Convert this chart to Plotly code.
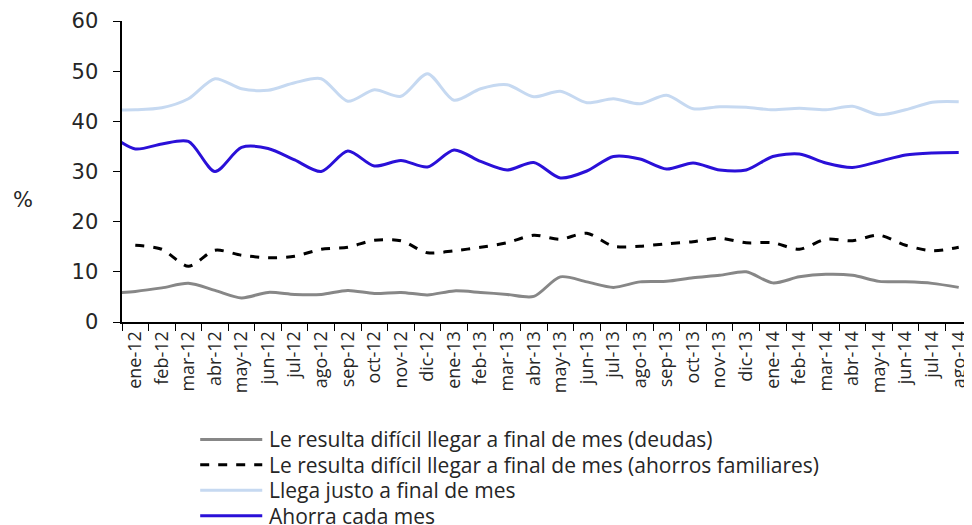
import plotly.graph_objects as go

# Categories (first one "dic-11" lies outside the visible range; only its approach segment shows)
months = ["dic-11",
          "ene-12", "feb-12", "mar-12", "abr-12", "may-12", "jun-12", "jul-12", "ago-12",
          "sep-12", "oct-12", "nov-12", "dic-12",
          "ene-13", "feb-13", "mar-13", "abr-13", "may-13", "jun-13", "jul-13", "ago-13",
          "sep-13", "oct-13", "nov-13", "dic-13",
          "ene-14", "feb-14", "mar-14", "abr-14", "may-14", "jun-14", "jul-14", "ago-14"]

deudas = [5.7,
          6.1, 6.8, 7.7, 6.3, 4.8, 5.9, 5.5, 5.5, 6.3, 5.7, 5.9, 5.4,
          6.2, 5.9, 5.5, 5.1, 9.0, 8.0, 6.9, 8.0, 8.1, 8.8, 9.3, 10.0,
          7.8, 9.0, 9.5, 9.3, 8.1, 8.0, 7.7, 6.9]

ahorros_fam = [None,
               15.3, 14.5, 11.1, 14.3, 13.3, 12.8, 13.1, 14.5, 14.9, 16.3, 16.2, 13.8,
               14.2, 14.9, 15.8, 17.3, 16.5, 17.7, 15.1, 15.1, 15.6, 16.0, 16.7, 15.8,
               15.8, 14.5, 16.5, 16.2, 17.3, 15.3, 14.2, 14.9]

justo = [42.3,
         42.3, 42.7, 44.5, 48.5, 46.5, 46.2, 47.7, 48.5, 44.0, 46.3, 45.0, 49.5,
         44.2, 46.5, 47.3, 44.9, 46.0, 43.7, 44.5, 43.5, 45.2, 42.5, 42.9, 42.8,
         42.3, 42.6, 42.3, 43.0, 41.3, 42.3, 43.8, 43.9]

ahorra = [37.5,
          34.5, 35.5, 36.0, 30.0, 34.8, 34.6, 32.3, 30.0, 34.1, 31.1, 32.2, 30.9,
          34.3, 32.0, 30.3, 31.8, 28.7, 30.1, 33.0, 32.5, 30.5, 31.7, 30.3, 30.3,
          33.0, 33.5, 31.7, 30.8, 32.0, 33.3, 33.7, 33.8]

names = ["Le resulta difícil llegar a final de mes (deudas)",
         "Le resulta difícil llegar a final de mes (ahorros familiares)",
         "Llega justo a final de mes",
         "Ahorra cada mes"]
colors = ["#878787", "#000000", "#c6d9f1", "#2a10d8"]
dashes = ["solid", "dash", "solid", "solid"]
series = [deudas, ahorros_fam, justo, ahorra]

FONT = "Open Sans"
NUMFONT = "DejaVu Sans"
TXT = "#262626"

fig = go.Figure()
for nm, ys, col, ds in zip(names, series, colors, dashes):
    fig.add_trace(go.Scatter(x=months, y=ys, name=nm, mode="lines", showlegend=False,
                             line=dict(color=col, width=3, dash=ds, shape="spline", smoothing=0.8)))

# Legend drawn below the chart (line sample + label per series)
shapes, annotations = [], []
for i, (nm, col, ds) in enumerate(zip(names, colors, dashes)):
    yy = -0.39 - i * 0.0845
    shapes.append(dict(type="line", xref="paper", yref="paper", x0=0.092, x1=0.165,
                       y0=yy, y1=yy, line=dict(color=col, width=3, dash=ds)))
    annotations.append(dict(text=nm, xref="paper", yref="paper", x=0.171, y=yy,
                            xanchor="left", yanchor="middle", showarrow=False,
                            font=dict(family=FONT, size=21, color=TXT)))

annotations.append(dict(text="%", x=-0.1165, y=0.405, xref="paper", yref="paper",
                        xanchor="center", yanchor="middle",
                        showarrow=False, font=dict(family=NUMFONT, size=21, color=TXT)))

# page body has an 8px margin: figure occupies 964x517 starting at (8, 8)
fig.update_layout(
    width=964, height=517,
    margin=dict(l=114, r=0, t=13, b=203, autoexpand=False),
    plot_bgcolor="white", paper_bgcolor="white",
    font=dict(family=FONT, color=TXT, size=19),
    showlegend=False,
    xaxis=dict(type="category", range=[0.5, 32.5], tickson="boundaries",
               tickangle=-90, ticks="outside", ticklen=7, tickcolor="#000",
               showline=True, linecolor="#000", linewidth=2, showgrid=False,
               automargin=False,
               tickfont=dict(family=FONT, size=18, color=TXT)),
    yaxis=dict(range=[0, 60], dtick=10, ticks="outside", ticklen=7, tickcolor="#000",
               showline=True, linecolor="#000", linewidth=2, showgrid=False, zeroline=False,
               automargin=False, ticksuffix="\u2002", ticklabeloverflow="allow",
               tickfont=dict(family=NUMFONT, size=21, color=TXT)),
    shapes=shapes,
    annotations=annotations,
)

fig.write_html("out.html")
